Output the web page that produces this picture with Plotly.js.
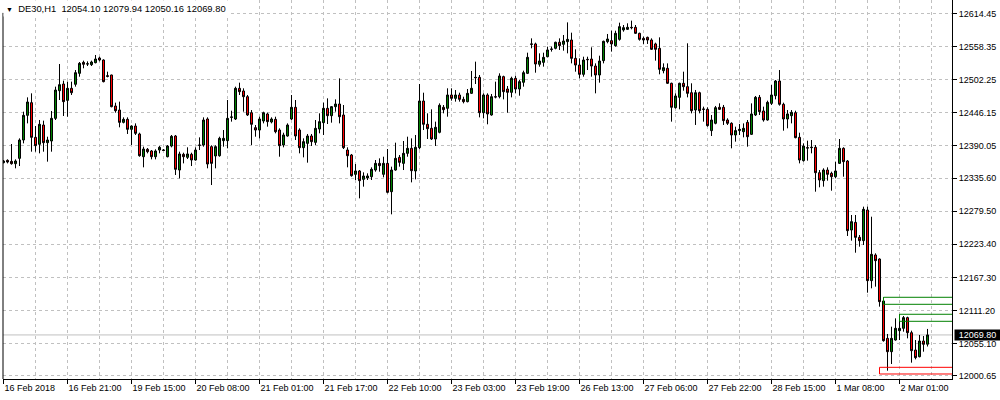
<!DOCTYPE html>
<html>
<head>
<meta charset="utf-8">
<script src="https://cdn.plot.ly/plotly-3.0.1.min.js"></script>
<style>html,body{margin:0;padding:0;background:#fff;}#chart{width:1000px;height:400px;}</style>
</head>
<body>
<div id="chart"></div>
<script>
// DE30, H1 — one entry per hourly bar (bar 0 = 16 Feb 2018 05:00 ... bar 231 = 2 Mar 08:00)
const openPrices = [
12361.8,12365.7,12364.0,12360.1,12369.1,12400.2,12442.0,12463.5,12404.7,12392.9,
12425.6,12395.7,12398.5,12436.9,12483.8,12495.1,12467.4,12487.8,12494.6,12513.2,
12531.8,12529.0,12527.9,12531.3,12539.2,12535.8,12509.2,12510.4,12457.8,12451.0,
12430.1,12435.2,12418.3,12423.9,12410.4,12371.9,12384.4,12381.6,12371.9,12383.2,
12383.2,12371.9,12390.0,12407.0,12349.3,12375.9,12370.8,12375.9,12366.3,12391.7,
12391.7,12435.8,12388.9,12373.1,12373.6,12399.1,12399.1,12438.6,12435.8,12487.8,
12483.3,12473.6,12446.5,12421.1,12417.1,12432.4,12444.3,12430.7,12435.2,12417.1,
12391.7,12407.0,12435.8,12455.6,12417.1,12387.2,12394.5,12407.0,12396.2,12418.8,
12429.6,12453.9,12441.4,12456.7,12461.2,12442.6,12383.2,12374.8,12342.0,12347.7,
12333.5,12335.8,12338.0,12349.3,12360.6,12342.0,12360.6,12312.6,12349.3,12370.8,
12360.6,12377.6,12386.1,12347.7,12387.2,12466.3,12426.8,12420.0,12401.9,12413.2,
12455.6,12453.9,12476.5,12470.8,12476.5,12469.1,12465.2,12479.3,12506.4,12506.4,
12446.5,12476.5,12442.6,12473.6,12473.6,12507.6,12486.6,12481.0,12504.7,12486.6,
12498.0,12513.2,12563.0,12563.0,12528.5,12531.8,12541.4,12554.5,12555.6,12565.8,
12562.4,12566.9,12569.7,12538.6,12527.3,12511.5,12536.9,12537.5,12525.6,12510.4,
12534.7,12566.9,12568.6,12560.1,12570.8,12586.7,12587.8,12591.2,12591.2,12581.0,
12572.5,12574.2,12569.7,12563.0,12555.6,12517.7,12521.7,12496.3,12455.0,12472.5,
12496.3,12490.6,12480.4,12451.1,12480.4,12452.8,12452.2,12416.1,12428.5,12455.6,
12455.6,12434.1,12428.5,12408.7,12416.1,12414.3,12430.1,12409.8,12442.6,12472.5,
12449.4,12434.1,12462.3,12475.3,12500.2,12460.7,12435.8,12441.4,12446.5,12404.7,
12365.2,12387.2,12387.2,12387.8,12344.8,12331.3,12349.3,12343.7,12338.0,12360.6,
12386.1,12364.6,12247.6,12260.6,12235.2,12229.6,12281.5,12161.8,12205.3,12198.5,
12127.3,12064.0,12041.4,12061.2,12077.0,12081.0,12099.1,12073.6,12044.2,12032.9,
12059.5,12054.10
];
const highPrices = [
12366.3,12367.4,12393.4,12367.4,12403.0,12448.2,12472.5,12479.3,12423.9,12434.1,
12433.0,12405.8,12449.4,12490.6,12529.0,12500.8,12499.1,12499.1,12518.8,12532.4,
12534.7,12533.5,12534.7,12544.3,12541.4,12536.9,12516.0,12510.9,12463.5,12465.2,
12438.6,12438.6,12425.1,12428.4,12412.6,12388.9,12386.6,12383.2,12384.4,12390.0,
12384.9,12391.7,12408.7,12408.7,12380.4,12378.7,12387.8,12378.7,12387.8,12404.7,
12438.6,12438.6,12391.2,12391.2,12405.8,12417.1,12468.0,12449.9,12490.6,12497.4,
12487.8,12476.5,12451.0,12425.6,12439.7,12448.2,12446.5,12438.6,12439.7,12420.0,
12412.6,12428.4,12476.5,12468.0,12420.0,12403.0,12410.4,12410.4,12434.1,12445.4,
12463.5,12470.8,12457.8,12469.1,12504.7,12459.5,12387.8,12376.5,12359.5,12349.3,
12345.4,12343.7,12353.9,12366.3,12369.1,12371.9,12384.9,12355.0,12395.7,12374.8,
12398.5,12405.8,12403.0,12408.7,12495.1,12480.4,12445.4,12452.2,12431.3,12462.3,
12459.5,12487.8,12487.8,12484.9,12480.4,12473.6,12486.6,12517.2,12533.0,12510.4,
12479.3,12479.3,12478.2,12499.1,12513.2,12509.2,12491.7,12507.5,12509.2,12501.9,
12517.7,12548.2,12572.5,12565.2,12547.1,12548.2,12558.4,12558.4,12566.9,12572.5,
12578.2,12599.6,12582.1,12553.9,12538.6,12541.4,12541.4,12557.3,12530.1,12543.1,
12568.6,12579.9,12585.5,12585.5,12599.1,12595.1,12598.0,12602.5,12595.1,12582.1,
12575.4,12575.4,12572.5,12565.2,12574.2,12530.1,12530.1,12497.4,12479.3,12497.4,
12516.0,12564.1,12496.3,12485.0,12482.1,12456.7,12455.6,12442.6,12457.9,12462.4,
12459.6,12437.0,12430.2,12422.8,12427.4,12428.4,12434.1,12462.3,12474.8,12476.5,
12456.7,12466.9,12493.4,12501.9,12518.8,12463.5,12451.0,12451.0,12449.9,12412.6,
12394.5,12399.1,12400.2,12391.7,12349.3,12352.2,12353.9,12346.5,12363.5,12401.9,
12387.8,12366.3,12273.1,12273.1,12239.2,12287.2,12287.2,12270.2,12208.1,12199.6,
12133.5,12071.4,12083.8,12097.9,12104.7,12101.9,12100.7,12077.0,12061.2,12069.7,
12068.0,12079.94
];
const lowPrices = [
12360.6,12360.6,12358.4,12352.2,12356.1,12394.5,12428.4,12380.4,12380.4,12377.6,
12380.4,12363.5,12380.4,12434.1,12468.0,12440.9,12439.7,12476.5,12490.6,12507.5,
12521.7,12525.6,12525.6,12530.1,12533.5,12497.9,12506.4,12455.6,12446.5,12421.7,
12428.4,12410.4,12391.7,12408.7,12371.9,12353.9,12377.6,12367.4,12367.4,12377.6,
12381.6,12370.8,12387.8,12340.9,12335.2,12360.6,12368.0,12356.1,12365.2,12383.2,
12388.9,12352.2,12323.9,12352.2,12371.9,12388.9,12386.1,12431.3,12434.1,12476.5,
12448.2,12440.9,12391.7,12405.8,12403.0,12428.4,12422.8,12428.4,12411.5,12371.9,
12387.8,12405.8,12434.1,12400.2,12377.6,12370.8,12361.8,12390.0,12391.7,12411.5,
12408.7,12427.3,12429.6,12448.2,12428.4,12384.9,12353.9,12338.0,12332.4,12301.3,
12321.1,12332.4,12332.4,12346.5,12346.5,12336.9,12309.8,12274.2,12348.2,12355.0,
12349.3,12371.9,12328.4,12333.5,12384.4,12417.1,12401.9,12400.2,12390.0,12411.5,
12445.4,12439.7,12466.9,12465.2,12465.2,12462.3,12464.0,12478.2,12495.1,12438.6,
12436.9,12426.8,12441.4,12470.8,12470.8,12469.1,12446.5,12472.5,12479.3,12475.3,
12490.6,12512.0,12555.6,12514.3,12524.5,12524.5,12540.3,12550.0,12553.9,12552.8,
12551.6,12547.1,12530.1,12516.0,12504.7,12507.5,12518.8,12507.5,12479.3,12497.4,
12530.1,12564.1,12550.0,12558.4,12568.6,12583.8,12586.7,12587.8,12579.9,12568.6,
12563.0,12563.0,12552.8,12534.7,12511.5,12513.2,12495.1,12431.3,12453.4,12452.2,
12483.8,12472.5,12445.4,12425.7,12445.4,12431.3,12422.8,12407.0,12426.8,12451.1,
12425.7,12425.7,12386.1,12397.4,12408.7,12404.7,12388.9,12408.7,12440.9,12442.6,
12431.3,12433.0,12459.5,12469.1,12458.4,12416.0,12420.0,12428.4,12403.0,12360.6,
12363.5,12365.2,12377.6,12312.6,12320.0,12321.1,12331.3,12314.3,12335.2,12359.5,
12338.0,12237.5,12229.6,12209.2,12219.4,12222.2,12141.4,12148.8,12151.6,12117.7,
12058.4,12009.2,12020.5,12060.1,12061.2,12075.3,12064.0,12022.8,12028.4,12031.8,
12041.4,12050.16
];
const closePrices = [
12364.6,12362.9,12360.1,12364.6,12400.2,12442.0,12464.6,12404.7,12390.6,12426.8,
12395.7,12400.2,12436.9,12484.9,12494.0,12465.2,12487.8,12480.4,12514.3,12530.1,
12528.5,12529.3,12532.4,12537.5,12535.8,12499.1,12508.1,12456.7,12449.9,12430.1,
12435.2,12418.3,12423.9,12411.5,12373.6,12384.9,12380.4,12371.9,12381.6,12387.8,
12382.6,12390.0,12406.4,12350.5,12376.5,12371.9,12376.5,12366.3,12383.2,12391.2,
12434.1,12359.5,12360.6,12388.9,12403.0,12403.0,12436.9,12439.2,12487.8,12482.1,
12473.6,12442.6,12426.8,12417.1,12435.8,12446.5,12431.3,12435.8,12414.3,12390.6,
12408.7,12425.6,12455.6,12407.0,12387.2,12397.4,12407.0,12397.4,12420.0,12431.3,
12453.9,12441.4,12456.7,12461.2,12439.7,12387.2,12373.6,12339.7,12347.7,12331.3,
12339.2,12339.2,12350.5,12360.6,12356.7,12360.6,12311.5,12349.3,12369.1,12362.3,
12377.6,12386.1,12348.2,12387.8,12466.3,12426.8,12419.4,12401.9,12421.7,12459.0,
12451.6,12476.5,12470.8,12476.5,12469.1,12465.2,12479.3,12487.8,12505.9,12446.5,
12476.5,12444.3,12473.6,12473.1,12508.7,12482.1,12481.0,12504.7,12486.6,12499.1,
12514.3,12540.3,12562.5,12529.0,12534.1,12540.3,12552.8,12553.9,12565.8,12560.1,
12568.0,12570.8,12538.6,12527.3,12511.5,12535.8,12536.4,12525.6,12510.4,12534.1,
12567.5,12571.4,12563.0,12581.0,12592.3,12590.6,12591.2,12590.6,12581.0,12570.8,
12569.7,12569.7,12553.9,12553.9,12520.0,12522.8,12496.3,12455.6,12474.8,12496.3,
12490.6,12479.3,12449.9,12480.4,12449.9,12452.2,12424.5,12434.1,12455.0,12452.2,
12433.0,12428.5,12408.7,12416.1,12418.3,12420.0,12405.8,12444.3,12472.5,12448.2,
12434.1,12464.0,12476.5,12500.2,12460.7,12435.8,12444.3,12447.1,12404.2,12366.3,
12390.0,12386.6,12387.8,12344.8,12332.4,12349.3,12342.0,12338.0,12347.7,12386.1,
12363.5,12246.5,12261.8,12235.2,12229.6,12282.7,12161.8,12206.4,12195.7,12126.2,
12060.1,12041.4,12064.0,12081.0,12081.0,12099.1,12073.6,12043.1,12031.3,12059.5,
12053.9,12069.80
];

// time-axis labels (every 16th bar)
const timeTickBars = [0,16,32,48,64,80,96,112,128,144,160,176,192,208,224];
const timeTickLabels = ["16 Feb 2018","16 Feb 21:00","19 Feb 15:00","20 Feb 08:00","21 Feb 01:00",
  "21 Feb 17:00","22 Feb 10:00","23 Feb 03:00","23 Feb 19:00","26 Feb 13:00","27 Feb 06:00",
  "27 Feb 22:00","28 Feb 15:00","1 Mar 08:00","2 Mar 01:00"];
// price-axis labels
const priceTicks = [12614.45,12558.35,12502.25,12446.15,12390.05,12335.60,12279.50,12223.40,12167.30,12111.20,12055.10,12000.65];
const priceTickLabels = priceTicks.map(v => v.toFixed(2));

// support / resistance zones drawn on the chart
const zoneStartBar = [220, 224, 219];
const zoneLow = [12121.7, 12092.9, 12003.6];
const zoneHigh = [12133.6, 12104.8, 12014.9];
const zoneColor = ["#008000", "#008000", "#ff0000"];

const symbolTitle = "DE30,H1";
const lastPrice = 12069.80;

const barIndex = openPrices.map((_, i) => i);
const FONT = "Liberation Sans, Arial, sans-serif";

const trace = {
  type: "candlestick",
  x: barIndex,
  open: openPrices, high: highPrices, low: lowPrices, close: closePrices,
  increasing: {line: {color: "#000000", width: 1}, fillcolor: "#008000"},
  decreasing: {line: {color: "#000000", width: 1}, fillcolor: "#ff0000"},
  whiskerwidth: 0,
  hoverinfo: "skip",
  showlegend: false
};

const gridStyle = {showgrid: true, gridcolor: "#c0c0c0", gridwidth: 1, griddash: "3px,3px"};

const shapes = [
  // current price line
  {type: "line", xref: "paper", x0: 0, x1: 1, yref: "y", y0: lastPrice, y1: lastPrice,
   line: {color: "#c0c0c0", width: 1}, layer: "between"},
  // left frame
  {type: "line", xref: "paper", x0: 0, x1: 0, yref: "paper", y0: 0, y1: 0.966,
   line: {color: "#000000", width: 1}, layer: "above"}
];
zoneStartBar.forEach((b, k) => {
  shapes.push({type: "rect", xref: "x", yref: "y", x0: b, x1: 300, y0: zoneLow[k], y1: zoneHigh[k],
    line: {color: zoneColor[k], width: 1}, fillcolor: "rgba(0,0,0,0)", layer: "above"});
});

const layout = {
  width: 1000, height: 400,
  margin: {l: 3, r: 48, t: 0, b: 21, pad: 0},
  paper_bgcolor: "#ffffff", plot_bgcolor: "#ffffff",
  showlegend: false,
  boxgap: 0.5,
  boxgroupgap: 0,
  font: {family: FONT, size: 9, color: "#000000"},
  xaxis: Object.assign({
    type: "linear",
    range: [-0.125, 237.125],
    tickmode: "array", tickvals: timeTickBars, ticktext: timeTickLabels,
    ticks: "outside", ticklen: 4, tickcolor: "#000000", tickwidth: 1,
    ticklabelposition: "outside right",
    tickfont: {family: FONT, size: 9, color: "#000000"},
    showline: true, linecolor: "#000000", linewidth: 1,
    zeroline: false,
    minor: {tickmode: "linear", tick0: 0, dtick: 8, showgrid: true, gridcolor: "#c0c0c0", gridwidth: 1, griddash: "3px,3px", ticks: ""},
    rangeslider: {visible: false},
    fixedrange: true
  }, gridStyle),
  yaxis: Object.assign({
    side: "right",
    range: [11995.1, 12637.5],
    tickmode: "array", tickvals: priceTicks, ticktext: priceTickLabels,
    ticks: "outside", ticklen: 4, tickcolor: "#000000", tickwidth: 1,
    tickfont: {family: FONT, size: 9, color: "#000000"},
    showline: true, linecolor: "#000000", linewidth: 1,
    zeroline: false,
    fixedrange: true
  }, gridStyle),
  shapes: shapes,
  annotations: [
    {xref: "paper", yref: "paper", x: 0, y: 1, xanchor: "left", yanchor: "top",
     xshift: 0, yshift: 0, showarrow: false,
     text: "<span style='font-size:7px'>\u25BC</span>  " + symbolTitle + "  " +
       [openPrices[openPrices.length-1], highPrices[highPrices.length-1], lowPrices[lowPrices.length-1], closePrices[closePrices.length-1]].map(v => v.toFixed(2)).join(" "),
     font: {family: FONT, size: 9.4, color: "#000000"},
     bgcolor: "#ffffff", borderpad: 2},
    {xref: "paper", yref: "y", x: 1, y: lastPrice, xanchor: "left", yanchor: "middle",
     xshift: 2, showarrow: false, text: lastPrice.toFixed(2),
     font: {family: FONT, size: 9, color: "#ffffff"},
     bgcolor: "#000000", borderpad: 0, width: 45, height: 10, align: "center"}
  ]
};

Plotly.newPlot("chart", [trace], layout, {staticPlot: true, displayModeBar: false});
</script>
</body>
</html>
